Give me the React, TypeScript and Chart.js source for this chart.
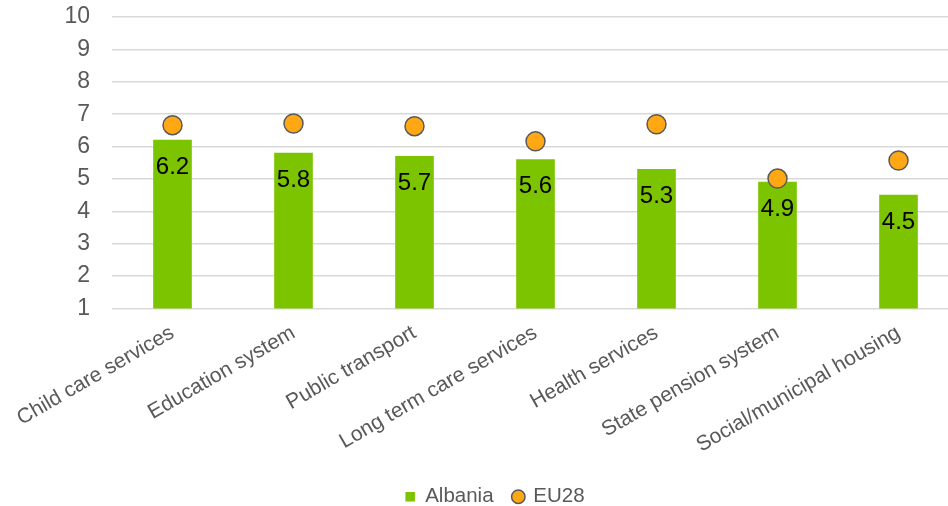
import React, { useEffect, useRef } from "react";
import { Chart, registerables } from "chart.js";

Chart.register(...registerables);

const categories = [
  "Child care services",
  "Education system",
  "Public transport",
  "Long term care services",
  "Health services",
  "State pension system",
  "Social/municipal housing",
];
const albania = [6.2, 5.8, 5.7, 5.6, 5.3, 4.9, 4.5];
const eu28 = [6.66, 6.71, 6.63, 6.16, 6.69, 5.01, 5.57];
const yMin = 1;
const yMax = 10;
const yStep = 1;

const GREEN = "#7DC400";
const ORANGE = "#FFA814";
const GREY_TEXT = "#595959";
const FONT = "'Liberation Sans', Arial, sans-serif";

const barLabels = {
  id: "barLabels",
  afterDatasetsDraw(chart: any) {
    const meta = chart.getDatasetMeta(0);
    const ctx = chart.ctx;
    ctx.save();
    ctx.fillStyle = "#000000";
    ctx.font = `24px ${FONT}`;
    ctx.textAlign = "center";
    ctx.textBaseline = "middle";
    meta.data.forEach((el: any, i: number) => {
      ctx.fillText(albania[i].toFixed(1), el.x, el.y + 27);
    });
    ctx.restore();
  },
};

export default function App() {
  const ref = useRef<HTMLCanvasElement | null>(null);
  useEffect(() => {
    if (!ref.current) return;
    const chart = new Chart(ref.current, {
      type: "bar",
      data: {
        labels: categories,
        datasets: [
          {
            type: "bar",
            label: "Albania",
            data: albania,
            backgroundColor: GREEN,
            borderWidth: 0,
            barThickness: 38,
            order: 2,
            pointStyle: "rect",
          } as any,
          {
            type: "line",
            label: "EU28",
            data: eu28,
            showLine: false,
            backgroundColor: ORANGE,
            borderColor: "#595959",
            borderWidth: 1.5,
            pointRadius: 9.5,
            pointHoverRadius: 9.5,
            pointBackgroundColor: ORANGE,
            pointBorderColor: "#595959",
            pointBorderWidth: 1.5,
            pointStyle: "circle",
            order: 1,
          } as any,
        ],
      },
      options: {
        animation: false,
        responsive: false,
        devicePixelRatio: 1,
        layout: { padding: { left: 22, right: 2, top: 17, bottom: 0 } },
        plugins: {
          tooltip: { enabled: false },
          legend: {
            position: "bottom",
            labels: {
              usePointStyle: true,
              boxWidth: 9.5,
              boxHeight: 9.5,
              padding: 20,
              color: GREY_TEXT,
              font: { size: 20.5, family: FONT },
              sort: (a: any, b: any) => a.datasetIndex - b.datasetIndex,
            },
          },
        },
        scales: {
          x: {
            grid: { display: false, drawTicks: false },
            border: { display: false },
            ticks: {
              color: GREY_TEXT,
              font: { size: 21, family: FONT },
              minRotation: 30,
              maxRotation: 30,
              padding: 12,
              autoSkip: false,
            },
            afterFit: (s: any) => {
              s.height = 158;
              s.paddingLeft = 0;
              s.paddingRight = 0;
            },
          },
          y: {
            min: yMin,
            max: yMax,
            grid: { color: "#D9D9D9", lineWidth: 1.5, drawTicks: false },
            border: { display: false },
            ticks: {
              stepSize: yStep,
              color: GREY_TEXT,
              font: { size: 23, family: FONT },
              padding: 22,
            },
            afterFit: (s: any) => {
              s.width = 90;
              s.paddingTop = 0;
              s.paddingBottom = 0;
            },
          },
        },
      },
      plugins: [barLabels],
    });
    return () => chart.destroy();
  }, []);
  return (
    <div
      style={{
        position: "absolute",
        left: 0,
        top: 0,
        width: 948,
        height: 506,
        overflow: "hidden",
        background: "#ffffff",
      }}
    >
      <canvas ref={ref} width={970} height={517} style={{ display: "block" }} />
    </div>
  );
}
